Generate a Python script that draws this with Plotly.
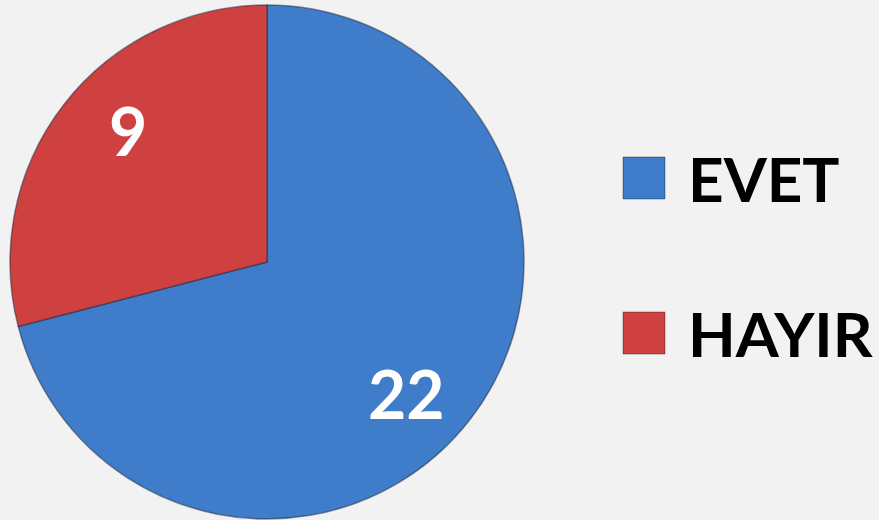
import math
import plotly.graph_objects as go

labels = ["EVET", "HAYIR"]
values = [22, 9]
colors = ["#3f7cc9", "#cf4141"]

W, H = 879, 520
dom_x = [10 / W, 524 / W]
dom_y = [1 / H, 515 / H]

fig = go.Figure()
fig.add_trace(go.Pie(
    labels=labels, values=values, sort=False, direction="clockwise", rotation=0,
    marker=dict(colors=colors, line=dict(color="rgba(30,40,60,0.5)", width=1.5)),
    textinfo="none",
    domain=dict(x=dom_x, y=dom_y),
    showlegend=False, hoverinfo="label+value",
))

# value labels placed near the mid-angle of each slice, toward the rim
cx = (dom_x[0] + dom_x[1]) / 2 * W
cy = (dom_y[0] + dom_y[1]) / 2 * H
r = min((dom_x[1] - dom_x[0]) * W, (dom_y[1] - dom_y[0]) * H) / 2
total = sum(values)
label_offset = math.radians(5.5)
start = 0.0
for v in values:
    mid = (start + v / 2) / total * 2 * math.pi + label_offset
    start += v
    px = cx + 0.745 * r * math.sin(mid)
    py = cy + 0.745 * r * math.cos(mid)
    fig.add_annotation(x=px / W, y=py / H, xref="paper", yref="paper", text=f"<b>{v}</b>",
                       showarrow=False, xanchor="center", yanchor="middle",
                       font=dict(family="Lato", size=66, color="white"))

# custom legend (large squares + bold labels)
leg_y = [178, 333]
for lab, col, yc in zip(labels, colors, leg_y):
    fig.add_shape(type="rect", xref="paper", yref="paper",
                  x0=623 / W, x1=665 / W, y0=1 - (yc + 21) / H, y1=1 - (yc - 21) / H,
                  fillcolor=col, line=dict(color="rgba(0,0,0,0.35)", width=1))
    fig.add_annotation(x=686 / W, y=1 - yc / H, xref="paper", yref="paper",
                       text=f"<b>{lab}</b>", showarrow=False, xanchor="left", yanchor="middle",
                       font=dict(family="Lato", size=62, color="black"))

fig.update_layout(width=W, height=H, margin=dict(l=0, r=0, t=0, b=0),
                  paper_bgcolor="#f2f2f2", plot_bgcolor="#f2f2f2")
fig.write_html("out.html", config={"displayModeBar": False},
               post_script="document.body.style.margin='0';")
